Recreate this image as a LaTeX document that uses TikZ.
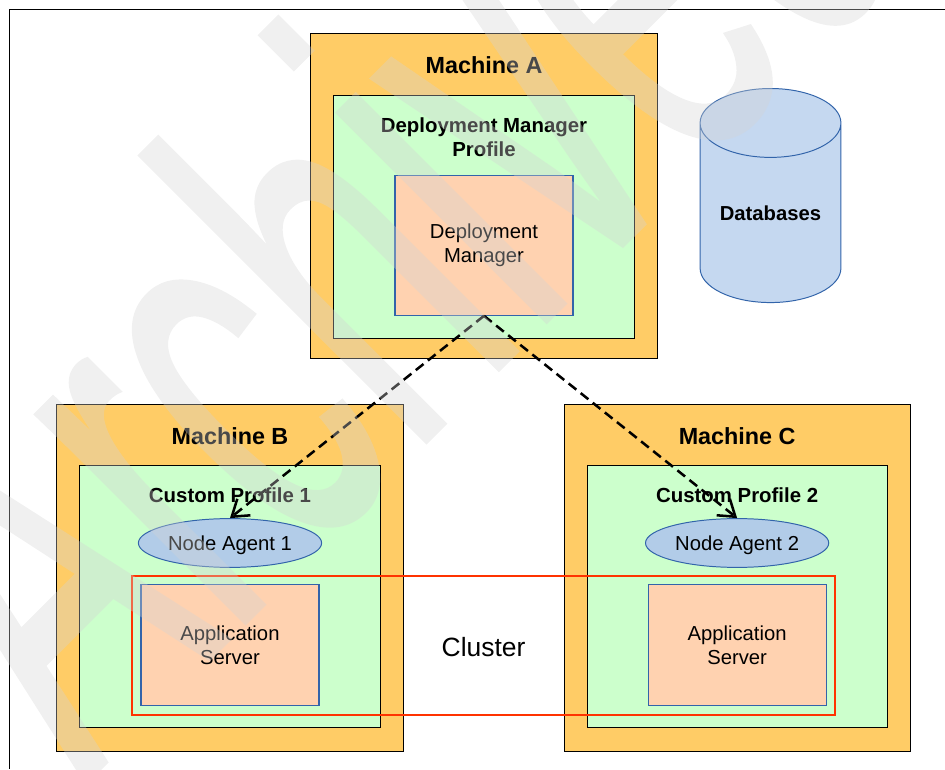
\documentclass[tikz,border=0pt]{standalone}
\usepackage{fontspec}
\setmainfont{Liberation Sans}
\newfontfamily\markfont[FakeBold=0.8]{Liberation Sans}
\usetikzlibrary{shapes.geometric,arrows.meta,positioning,fit}
\definecolor{machorange}{RGB}{255,204,102}
\definecolor{profgreen}{RGB}{204,255,204}
\definecolor{servpeach}{RGB}{255,210,176}
\definecolor{dbblue}{RGB}{197,216,240}
\definecolor{agentblue}{RGB}{178,204,232}
\definecolor{edgeblue}{RGB}{50,100,170}
\definecolor{clusterred}{RGB}{255,51,0}
\tikzset{
  machbox/.style={draw=black, line width=0.7pt, rectangle, fill=machorange, minimum width=8.65cm},
  profbox/.style={draw=black, line width=0.7pt, rectangle, fill=profgreen, minimum width=7.5cm},
  servbox/.style={draw=edgeblue, line width=0.8pt, rectangle, fill=servpeach, align=center, font=\fontsize{14.4}{17.6}\selectfont, execute at begin node={\vspace*{5pt}}},
  agentnode/.style={draw=edgeblue, line width=0.7pt, ellipse, fill=agentblue, minimum width=4.58cm, minimum height=1.22cm, inner sep=0pt, text height=14pt, font=\fontsize{14.4}{17.8}\selectfont},
  machlabel/.style={font=\fontsize{16.6}{20}\selectfont\bfseries},
  proflabel/.style={font=\fontsize{14.5}{17.2}\selectfont\bfseries, align=center},
  dashlink/.style={line width=1.8pt, dash pattern=on 7pt off 4pt, -{Straight Barb[length=11pt,width=15pt]}}
}
\begin{document}
\begin{tikzpicture}[x=0.025cm,y=-0.025cm]
    \useasboundingbox (0,0) rectangle (945,769);
    % Page frame
    \coordinate (framecorner) at (9.5,9.5);
    \coordinate (frametop) at (945,9.5);
    \coordinate (frameleft) at (9.5,769);
    \draw[line width=0.7pt] (frametop) -- (framecorner) -- (frameleft);

    % Machine A
    \node[machbox, minimum height=8.1cm] (machA) at (484,196) {};
    \node[machlabel, below=0.45cm of machA.north] (labelA) {Machine A};
    \node[profbox, minimum height=6.05cm, below=1.55cm of machA.north] (profA) {};
    \node[proflabel, below=0.42cm of profA.north] (labelprofA) {Deployment Manager\\Profile};
    \node[servbox, minimum width=4.45cm, minimum height=3.5cm, below=1.98cm of profA.north] (depmgr) {Deployment\\Manager};

    % Databases
    \node[draw=edgeblue, line width=0.7pt, cylinder, shape border rotate=90, aspect=0.68, cylinder uses custom fill, cylinder body fill=dbblue, cylinder end fill=dbblue, minimum width=3.52cm, minimum height=5.35cm, inner sep=0pt, font=\fontsize{14.4}{17.8}\selectfont\bfseries] (db) at (770.5,213) {Databases};

    % Machine B
    \node[machbox, minimum height=8.65cm] (machB) at (230,578) {};
    \node[machlabel, below=0.45cm of machB.north] (labelB) {Machine B};
    \node[profbox, minimum height=6.55cm, below=1.52cm of machB.north] (profB) {};
    \node[proflabel, below=0.43cm of profB.north] (labelprofB) {Custom Profile 1};
    \node[agentnode, below=1.32cm of profB.north] (agentB) {Node Agent 1};
    \node[servbox, minimum width=4.45cm, minimum height=3.03cm, below=2.97cm of profB.north] (appB) {Application\\Server};

    % Machine C
    \node[machbox, minimum height=8.65cm, right=4cm of machB] (machC) {};
    \node[machlabel, below=0.45cm of machC.north] (labelC) {Machine C};
    \node[profbox, minimum height=6.55cm, below=1.52cm of machC.north] (profC) {};
    \node[proflabel, below=0.43cm of profC.north] (labelprofC) {Custom Profile 2};
    \node[agentnode, below=1.32cm of profC.north] (agentC) {Node Agent 2};
    \node[servbox, minimum width=4.45cm, minimum height=3.03cm, below=2.97cm of profC.north] (appC) {Application\\Server};

    % Cluster
    \node[draw=clusterred, line width=1.3pt, rectangle, inner sep=0.21cm, fit=(appB)(appC)] (cluster) {};
    \node[font=\fontsize{18.8}{22}\selectfont, yshift=-1.5pt] (labelcluster) at (cluster.center) {Cluster};

    % Connections
    \draw[dashlink] (depmgr.south) -- (agentB.north);
    \draw[dashlink] (depmgr.south) -- (agentC.north);

    % Watermark
    \begin{scope}[transparency group, opacity=0.35]
      \node[rotate=45, xscale=0.55, anchor=base west, inner sep=0pt, text=black!17, font=\fontsize{397}{400}\markfont] (watermark) at (85,783) {Archived};
    \end{scope}
\end{tikzpicture}
\end{document}
